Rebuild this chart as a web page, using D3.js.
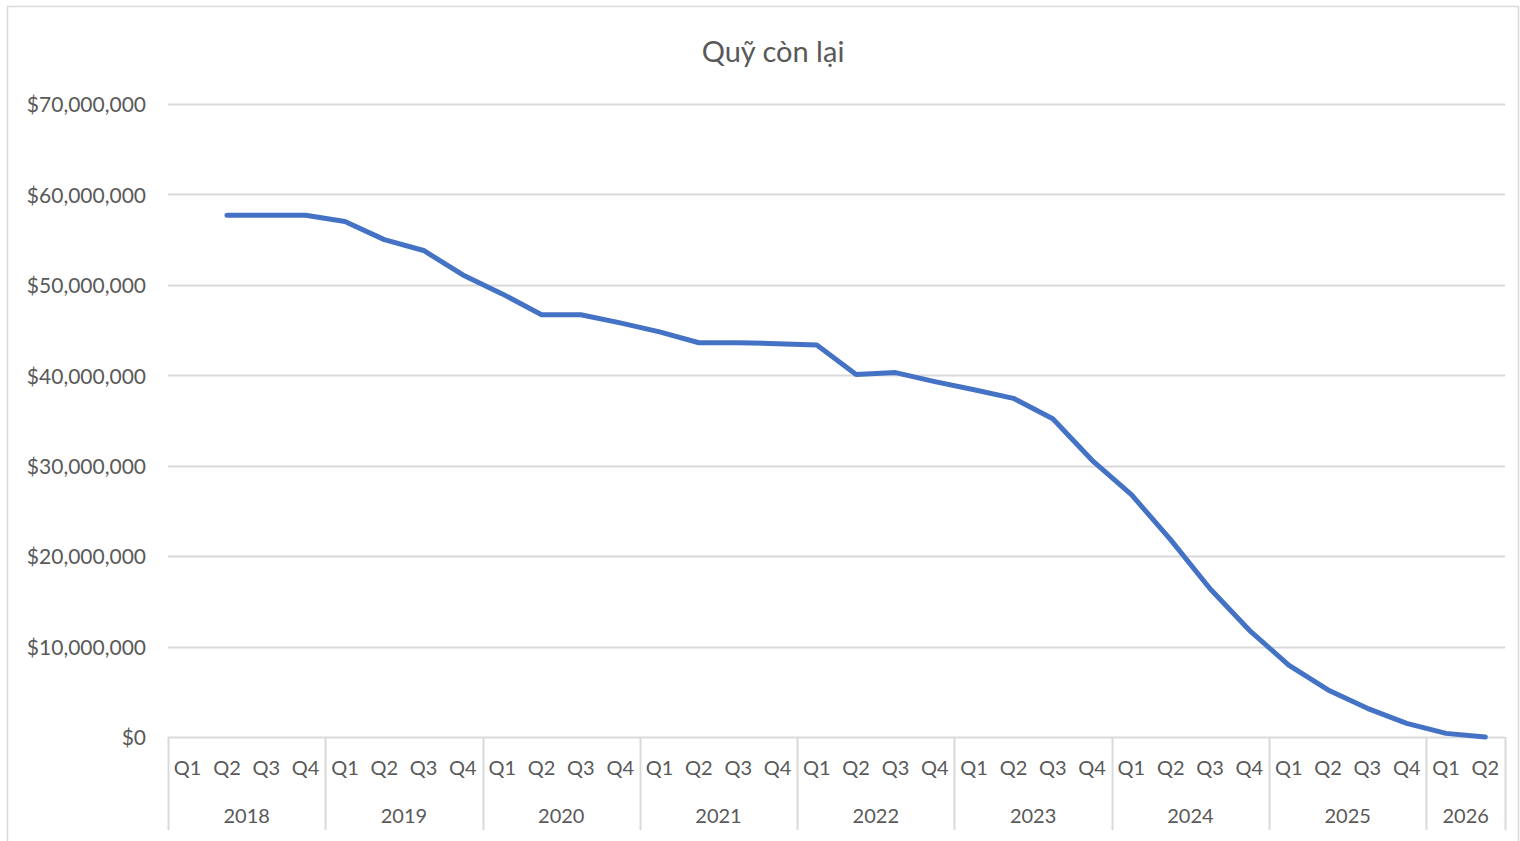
<!DOCTYPE html>
<html><head><meta charset="utf-8">
<script src="https://cdn.jsdelivr.net/npm/d3@7"></script>
<style>body{margin:0;background:#fff;}svg{display:block;}</style>
</head><body>
<svg id="c" width="1520" height="841"></svg>
<script>
const years = ["2018","2019","2020","2021","2022","2023","2024","2025","2026"];
const quartersPerYear = [4,4,4,4,4,4,4,4,2];
const quarterNames = ["Q1","Q2","Q3","Q4"];
// remaining fund per quarter (null = no value); 2018 Q1 .. 2026 Q2, in millions
const values = [null,57.7,57.7,57.7, 57.0,55.0,53.8,51.1, 49.0,46.7,46.7,45.8, 44.8,43.6,43.6,43.5,
  43.35,40.1,40.3,39.3, 38.4,37.45,35.2,30.6, 26.8,21.8,16.4,11.8, 7.96,5.2,3.17,1.5, 0.4,0.0];
const yTicks = [0,10,20,30,40,50,60,70];
const title = "Quỹ còn lại";

const cats = [];
years.forEach((y,i)=>{ for(let q=0;q<quartersPerYear[i];q++) cats.push({year:y, q:quarterNames[q], key:y+"-"+quarterNames[q]}); });
const data = cats.map((c,i)=>({...c, v: values[i]==null?null:values[i]*1e6}));

const svg = d3.select("#c");
const font = "Lato, 'Liberation Sans', sans-serif";
const grey = "#595959", grid = "#d9d9d9";

svg.append("rect").attr("x",7.5).attr("y",6.5).attr("width",1511).attr("height",850)
  .attr("fill","none").attr("stroke","#d9d9d9").attr("stroke-width",1.5);

const L=168, R=1505, T=104, B=737;
const x = d3.scaleBand().domain(cats.map(c=>c.key)).range([L,R]).padding(0);
const y = d3.scaleLinear().domain([0,70e6]).range([B,T]);

svg.append("text").attr("x",773).attr("y",62).attr("text-anchor","middle")
  .attr("font-family",font).attr("font-size",29).attr("fill",grey).text(title);

svg.append("g").selectAll("line").data(yTicks.filter(d=>d>0)).join("line")
  .attr("x1",L).attr("x2",R).attr("y1",d=>Math.round(y(d*1e6))+0.5).attr("y2",d=>Math.round(y(d*1e6))+0.5)
  .attr("stroke",grid).attr("stroke-width",2);

const fmt = d3.format("$,");
const yAxis = d3.axisLeft(y).tickValues(yTicks.map(d=>d*1e6)).tickSize(0).tickPadding(22).tickFormat(d=>fmt(d));
const ya = svg.append("g").attr("transform",`translate(${L},1)`).call(yAxis);
ya.select(".domain").remove();
ya.selectAll("text").attr("font-family",font).attr("font-size",21).attr("fill",grey);

svg.append("line").attr("x1",L).attr("x2",R).attr("y1",B+0.5).attr("y2",B+0.5).attr("stroke",grid).attr("stroke-width",2);

const xAxis = d3.axisBottom(x).tickSize(0).tickPadding(24).tickFormat(k=>k.split("-")[1]);
const xa = svg.append("g").attr("transform",`translate(0,${B})`).call(xAxis);
xa.select(".domain").remove();
xa.selectAll("text").attr("font-family",font).attr("font-size",20).attr("fill",grey);

let idx=0;
const groups = years.map((yr,i)=>{ const s=idx; idx+=quartersPerYear[i]; return {year:yr, start:cats[s].key, end:cats[idx-1].key}; });
const seps = [L].concat(groups.map(g=>x(g.end)+x.bandwidth()));
svg.append("g").selectAll("line").data(seps).join("line")
  .attr("x1",d=>Math.round(d)+0.5).attr("x2",d=>Math.round(d)+0.5).attr("y1",B).attr("y2",830)
  .attr("stroke",grid).attr("stroke-width",2);
svg.append("g").selectAll("text").data(groups).join("text")
  .attr("x",g=>(x(g.start)+x(g.end)+x.bandwidth())/2).attr("y",823).attr("text-anchor","middle")
  .attr("font-family",font).attr("font-size",20).attr("fill",grey).text(g=>g.year);

const line = d3.line().defined(d=>d.v!=null).x(d=>x(d.key)+x.bandwidth()/2).y(d=>y(d.v));
svg.append("path").datum(data).attr("d",line).attr("fill","none").attr("stroke","#4472C4")
  .attr("stroke-width",5).attr("stroke-linejoin","round").attr("stroke-linecap","round");
</script>
</body></html>
